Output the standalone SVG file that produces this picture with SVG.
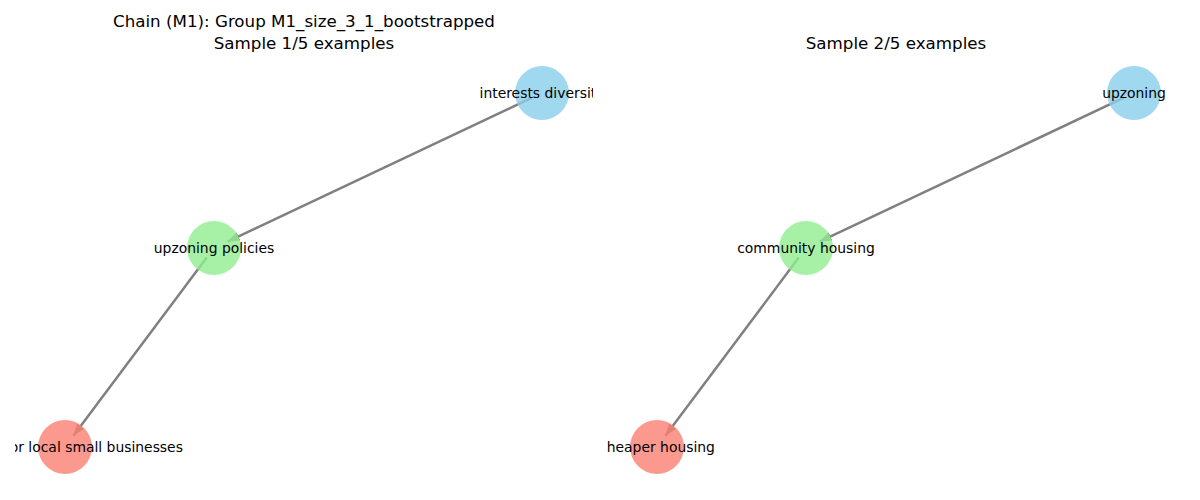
<svg xmlns="http://www.w3.org/2000/svg" width="1200" height="500" viewBox="0 0 1200 500">
<style>
.t{font-family:"DejaVu Sans",sans-serif;font-size:16.7px;fill:#000;text-anchor:middle}
.l{font-family:"DejaVu Sans",sans-serif;font-size:13.9px;fill:#000;text-anchor:middle}
.e{stroke:#808080;stroke-width:2.5;fill:none}
.b{fill:#87CEEB;fill-opacity:0.8}
.g{fill:#90EE90;fill-opacity:0.8}
.r{fill:#FA8072;fill-opacity:0.8}
</style>
<defs>
<marker id="ah" viewBox="0 0 12 9" refX="12" refY="4.5" markerWidth="12" markerHeight="9" markerUnits="userSpaceOnUse" orient="auto">
<path d="M0,0 L12,4.5 L0,9 z" fill="#808080"/>
</marker>
<clipPath id="c1"><rect x="15" y="0" width="578" height="500"/></clipPath>
<clipPath id="c2"><rect x="607" y="0" width="578" height="500"/></clipPath>
</defs>
<rect width="1200" height="500" fill="#fff"/>
<text class="t" x="304" y="27">Chain (M1): Group M1_size_3_1_bootstrapped</text>
<text class="t" x="304" y="49">Sample 1/5 examples</text>
<text class="t" x="896" y="49">Sample 2/5 examples</text>
<g id="connectors">
<line class="e" x1="532" y1="97.7" x2="227.6" y2="241.6" marker-end="url(#ah)"/>
<line class="e" x1="206.8" y1="257.6" x2="73.4" y2="435.8" marker-end="url(#ah)"/>
<line class="e" x1="1124" y1="97.7" x2="819.6" y2="241.6" marker-end="url(#ah)"/>
<line class="e" x1="798.8" y1="257.6" x2="665.4" y2="435.8" marker-end="url(#ah)"/>
</g>
<g clip-path="url(#c1)">
<g id="n1"><circle class="b" cx="542" cy="93" r="27"/><text class="l" x="542" y="97.5">interests diversity</text></g>
<g id="n2"><circle class="g" cx="214" cy="248" r="27"/><text class="l" x="214" y="252.5">upzoning policies</text></g>
<g id="n3"><circle class="r" cx="65" cy="447" r="27"/><text class="l" x="65" y="451.5">support for local small businesses</text></g>
</g>
<g clip-path="url(#c2)">
<g id="n4"><circle class="b" cx="1134" cy="93" r="27"/><text class="l" x="1134" y="97.5">upzoning</text></g>
<g id="n5"><circle class="g" cx="806" cy="248" r="27"/><text class="l" x="806" y="252.5">community housing</text></g>
<g id="n6"><circle class="r" cx="657" cy="447" r="27"/><text class="l" x="657" y="451.5">cheaper housing</text></g>
</g>
</svg>
